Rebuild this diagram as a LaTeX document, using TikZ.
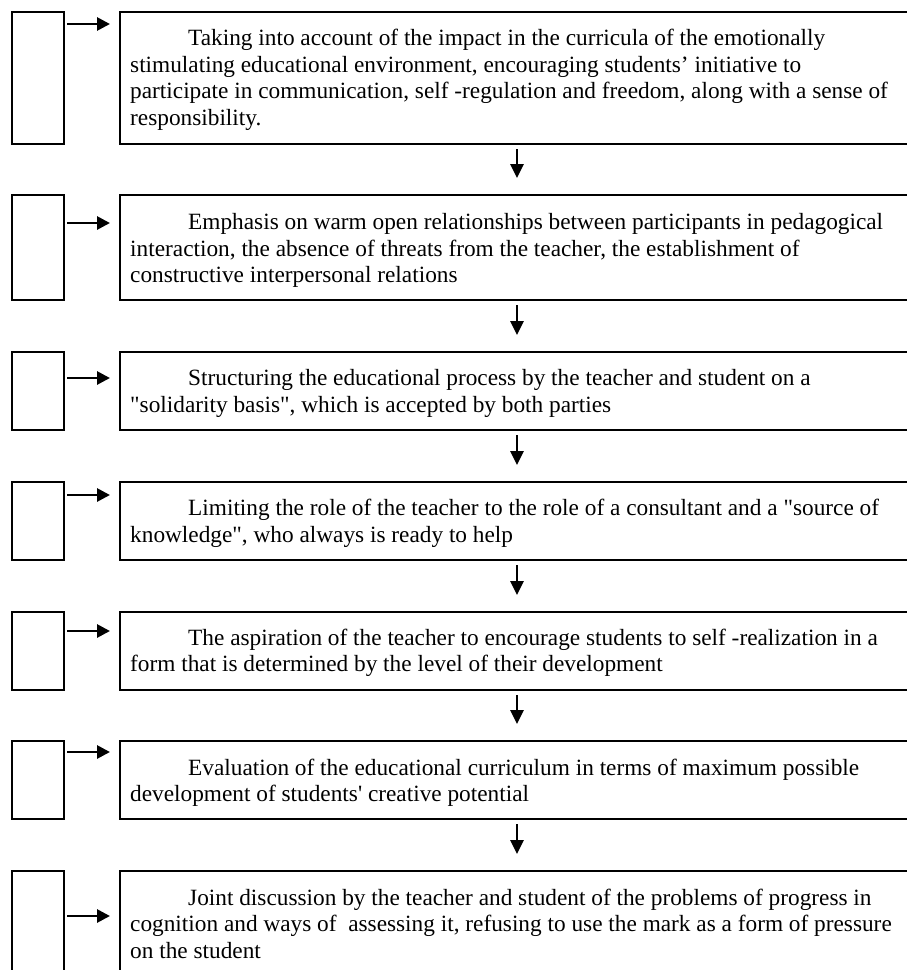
\documentclass[tikz,border=0pt]{standalone}
\usepackage{fontspec}
\setmainfont{Liberation Serif}[Ligatures=TeXOff]
\usetikzlibrary{arrows.meta}
\newcommand\myline[1]{\hbox{#1}}
\newcommand\firstline[1]{\hbox{\kern58pt #1}}
\newcommand\mytext[1]{\vtop{\baselineskip=26.6pt\lineskiplimit=-100pt\lineskip=0pt #1}}
\tikzset{
  sbox/.style={draw, line width=1.2pt, inner sep=0pt, outer sep=0pt, anchor=north west, minimum width=52pt},
  bbox/.style={draw, line width=1.2pt, inner sep=0pt, outer sep=0pt, anchor=north west, minimum width=794pt},
  txt/.style={anchor=base west, inner sep=0pt, font=\fontsize{23.3}{26.6}\selectfont},
  harrow/.style={line width=2.8pt, -{Triangle[length=13pt,width=13pt]}},
  varrow/.style={line width=2.8pt, -{Triangle[length=14pt,width=13pt]}, shorten <=5pt, shorten >=17pt},
}
\begin{document}
\begin{tikzpicture}[x=1pt,y=-1pt]
\useasboundingbox (0,0) rectangle (907,970);
\clip (0,0) rectangle (907,970);
% rows: top, height
\node[sbox, minimum height=132pt] (s1) at (12,12) {};
\node[bbox, minimum height=132pt] (b1) at (120,12) {};
\node[sbox, minimum height=105pt] (s2) at (12,195) {};
\node[bbox, minimum height=105pt] (b2) at (120,195) {};
\node[sbox, minimum height=78pt] (s3) at (12,352) {};
\node[bbox, minimum height=78pt] (b3) at (120,352) {};
\node[sbox, minimum height=78pt] (s4) at (12,482) {};
\node[bbox, minimum height=78pt] (b4) at (120,482) {};
\node[sbox, minimum height=78pt] (s5) at (12,612) {};
\node[bbox, minimum height=78pt] (b5) at (120,612) {};
\node[sbox, minimum height=78pt] (s6) at (12,741) {};
\node[bbox, minimum height=78pt] (b6) at (120,741) {};
\node[sbox, minimum height=130pt] (s7) at (12,871) {};
\node[bbox, minimum height=130pt] (b7) at (120,871) {};

\node[txt] (t1) at (130,45.5) {\mytext{%
\firstline{Taking into account of the impact in the curricula of the emotionally}%
\myline{stimulating educational environment, encouraging students’ initiative to}%
\myline{participate in communication, self -regulation and freedom, along with a sense of}%
\myline{responsibility.}}};
\node[txt] (t2) at (130,229.5) {\mytext{%
\firstline{Emphasis on warm open relationships between participants in pedagogical}%
\myline{interaction, the absence of threats from the teacher, the establishment of}%
\myline{constructive interpersonal relations}}};
\node[txt] (t3) at (130,385.5) {\mytext{%
\firstline{Structuring the educational process by the teacher and student on a}%
\myline{"solidarity basis", which is accepted by both parties}}};
\node[txt] (t4) at (130,515.5) {\mytext{%
\firstline{Limiting the role of the teacher to the role of a consultant and a "source of}%
\myline{knowledge", who always is ready to help}}};
\node[txt] (t5) at (130,645) {\mytext{%
\firstline{The aspiration of the teacher to encourage students to self -realization in a}%
\myline{form that is determined by the level of their development}}};
\node[txt] (t6) at (130,775) {\mytext{%
\firstline{Evaluation of the educational curriculum in terms of maximum possible}%
\myline{development of students' creative potential}}};
\node[txt] (t7) at (130,905) {\mytext{%
\firstline{Joint discussion by the teacher and student of the problems of progress in}%
\myline{cognition and ways of\ \ assessing it, refusing to use the mark as a form of pressure}%
\myline{on the student}}};

% horizontal arrows
\draw[harrow] ([xshift=3pt,yshift=-12pt]s1.north east) -- ([xshift=-10pt,yshift=-12pt]b1.north west);
\draw[harrow] ([xshift=3pt,yshift=-28pt]s2.north east) -- ([xshift=-10pt,yshift=-28pt]b2.north west);
\draw[harrow] ([xshift=3pt,yshift=-26pt]s3.north east) -- ([xshift=-10pt,yshift=-26pt]b3.north west);
\draw[harrow] ([xshift=3pt,yshift=-13pt]s4.north east) -- ([xshift=-10pt,yshift=-13pt]b4.north west);
\draw[harrow] ([xshift=3pt,yshift=-19pt]s5.north east) -- ([xshift=-10pt,yshift=-19pt]b5.north west);
\draw[harrow] ([xshift=3pt,yshift=-11pt]s6.north east) -- ([xshift=-10pt,yshift=-11pt]b6.north west);
\draw[harrow] ([xshift=3pt,yshift=-45pt]s7.north east) -- ([xshift=-10pt,yshift=-45pt]b7.north west);

% vertical arrows
\draw[varrow] (b1.south) -- (b2.north);
\draw[varrow] (b2.south) -- (b3.north);
\draw[varrow] (b3.south) -- (b4.north);
\draw[varrow] (b4.south) -- (b5.north);
\draw[varrow] (b5.south) -- (b6.north);
\draw[varrow] (b6.south) -- (b7.north);
\end{tikzpicture}
\end{document}
